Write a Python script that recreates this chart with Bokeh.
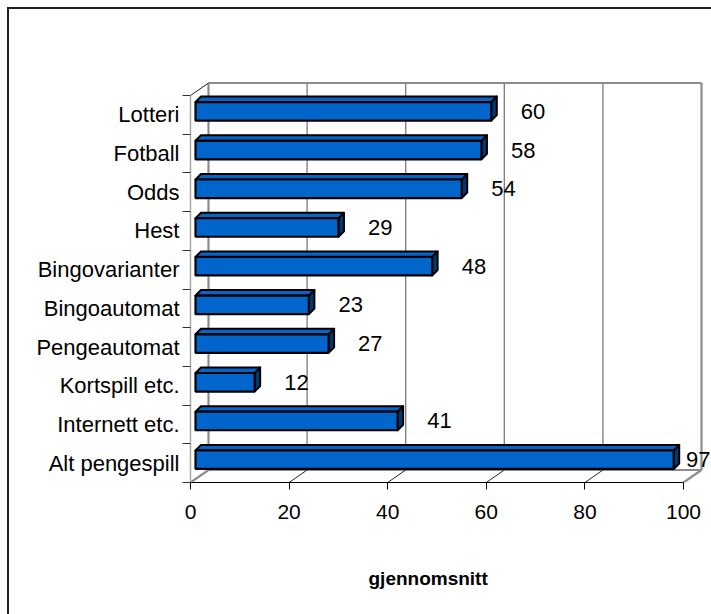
import numpy as np
from bokeh.plotting import figure
from bokeh.models import FixedTicker, Range1d, Title
from bokeh.embed import file_html
from bokeh.resources import INLINE

# ---- data ----
categories = ["Lotteri", "Fotball", "Odds", "Hest", "Bingovarianter", "Bingoautomat",
              "Pengeautomat", "Kortspill etc.", "Internett etc.", "Alt pengespill"]
values = [60, 58, 54, 29, 48, 23, 27, 12, 41, 97]
x_ticks = [0, 20, 40, 60, 80, 100]
x_title = "gjennomsnitt"

FONT = "Liberation Sans"

# ---- layout ----
W, H = 711, 614
FL, FB = 190, 132
PX_X = 4.93      # px per value unit
PX_Y = 38.7      # px per category
n = len(categories)
xr_end = (W - FL) / PX_X
yr_start = -0.5
yr_end = yr_start + (H - FB) / PX_Y

DX = 18 / PX_X   # wall depth
DY = 12.5 / PX_Y
BX = 5 / PX_X    # bar offset from front
BDX = 5.5 / PX_X # bar depth
BDY = 5.5 / PX_Y

p = figure(width=W, height=H, output_backend="svg", toolbar_location=None,
           x_range=Range1d(0, xr_end), y_range=Range1d(yr_start, yr_end),
           min_border_left=FL, min_border_right=0, min_border_top=0,
           min_border_bottom=FB, background_fill_color=None,
           border_fill_color=None,
           styles={"background-color": "white",
                   "box-shadow": "inset 7px 7px 0 0 white, inset 9px 9px 0 0 #1e1e1e"})
p.outline_line_color = None
p.grid.visible = False

xmax = x_ticks[-1]
y_lo = yr_start
y_hi = yr_start + n

# back wall grid lines (20..80)
p.multi_line([[t + DX, t + DX] for t in x_ticks[1:-1]],
             [[y_lo + DY, y_hi + DY]] * (len(x_ticks) - 2),
             line_color="#7a7a7a", line_width=1.3)
# wall outline lines (thicker gray)
p.multi_line([[DX, DX], [DX, xmax + DX], [xmax + DX, xmax + DX], [DX, xmax + DX],
              [0, DX], [xmax, xmax + DX]],
             [[y_lo + DY, y_hi + DY], [y_hi + DY, y_hi + DY], [y_lo + DY, y_hi + DY],
              [y_lo + DY, y_lo + DY], [y_lo, y_lo + DY], [y_lo, y_lo + DY]],
             line_color="#8c8c8c", line_width=2.2)
# floor diagonals at inner ticks + left wall top diagonal
p.multi_line([[t, t + DX] for t in x_ticks[1:-1]] + [[0, DX]],
             [[y_lo, y_lo + DY]] * (len(x_ticks) - 2) + [[y_hi, y_hi + DY]],
             line_color="#222222", line_width=1)

# bars
ys = np.arange(n)[::-1].astype(float)   # Lotteri at top
vals = np.array(values, dtype=float)
bot = ys - 0.5 + 0.35
top = ys - 0.5 + 0.83
x0 = np.full(n, BX)
x1 = vals + BX

top_xs = [[a, b, b + BDX, a + BDX] for a, b in zip(x0, x1)]
top_ys = [[t, t, t + BDY, t + BDY] for t in top]
side_xs = [[b, b + BDX, b + BDX, b] for b in x1]
side_ys = [[bb, bb + BDY, t + BDY, t] for bb, t in zip(bot, top)]

p.patches(side_xs, side_ys, fill_color="#003a73", line_color="black", line_width=2,
          line_join="round")
p.patches(top_xs, top_ys, fill_color="#0a64c8", line_color="black", line_width=2,
          line_join="round")
p.quad(left=x0, right=x1, bottom=bot, top=top, fill_color="#0066cc",
       line_color="black", line_width=2.2)

# value labels (kept inside the plot area)
lx = np.minimum(vals + 7, xmax + 0.5)
p.text(x=lx, y=ys + 0.09, text=[str(v) for v in values], text_align="left",
       text_baseline="middle", text_font_size="22px", text_color="black",
       text_font={"value": FONT})

# y axis
ya = p.yaxis[0]
ya.ticker = FixedTicker(ticks=list(range(n)), minor_ticks=[i - 0.5 for i in range(n + 1)])
ya.major_label_overrides = {int(i): c for i, c in zip(ys, categories)}
ya.bounds = (y_lo, y_hi)
ya.axis_line_color = "#a8a8a8"
ya.axis_line_width = 1.5
ya.major_tick_line_color = None
ya.major_tick_out = 8
ya.major_tick_in = 0
ya.minor_tick_line_color = "#333333"
ya.minor_tick_out = 8
ya.minor_tick_in = 0
ya.major_label_standoff = 3
ya.major_label_text_font = FONT
ya.major_label_text_font_size = "22px"
ya.major_label_text_color = "black"

# x axis
xa = p.xaxis[0]
xa.ticker = FixedTicker(ticks=x_ticks)
xa.bounds = (0, xmax)
xa.axis_line_color = "black"
xa.axis_line_width = 1.2
xa.major_tick_line_color = "black"
xa.major_tick_out = 7
xa.major_tick_in = 0
xa.minor_tick_line_color = None
xa.major_label_standoff = 15
xa.major_label_text_font = FONT
xa.major_label_text_font_size = "21px"
xa.major_label_text_color = "black"

# axis title below the tick labels
p.add_layout(Title(text=x_title, align="left", offset=178, standoff=0,
                   vertical_align="top",
                   padding=dict(left=0, right=0, top=46, bottom=0),
                   text_font=FONT, text_font_size="19px", text_font_style="bold",
                   text_color="black"), "below")

open("out.html", "w").write(file_html(p, INLINE))
